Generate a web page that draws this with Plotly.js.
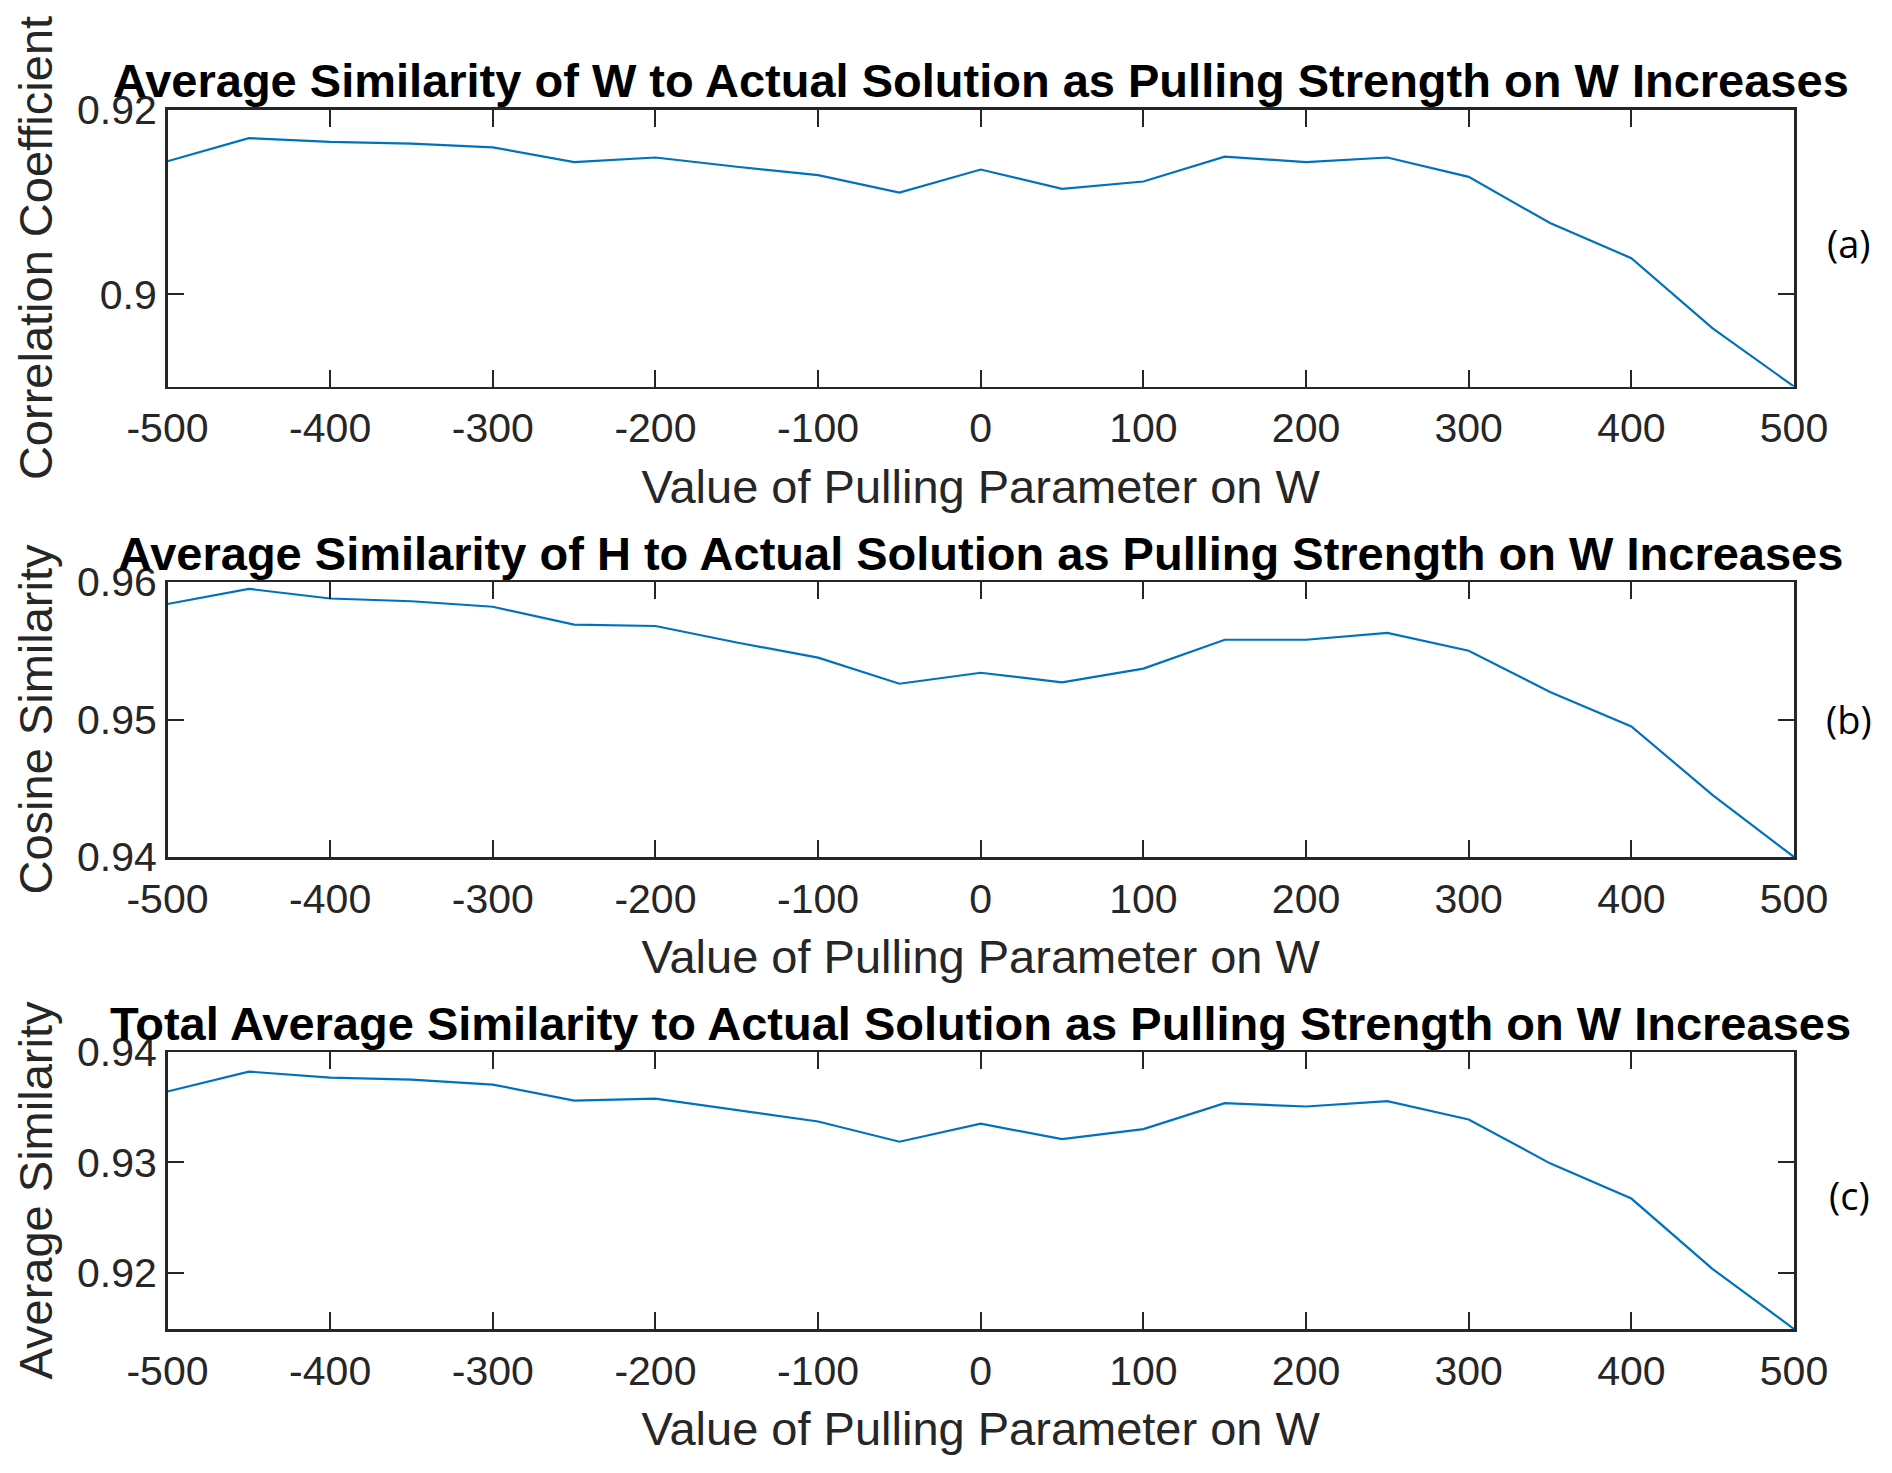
<!DOCTYPE html>
<html>
<head>
<meta charset="utf-8">
<script src="https://cdn.plot.ly/plotly-3.0.1.min.js"></script>
<style>html,body{margin:0;padding:0;background:#fff;}#chart{width:1892px;height:1473px;}</style>
</head>
<body>
<div id="chart"></div>
<script>
const pullValues = [-500,-450,-400,-350,-300,-250,-200,-150,-100,-50,0,50,100,150,200,250,300,350,400,450,500];
const corrW = [0.9144,0.9169,0.9165,0.9163,0.9159,0.9143,0.9148,0.9138,0.9129,0.9110,0.9135,0.9114,0.9122,0.9149,0.9143,0.9148,0.9127,0.9077,0.9039,0.8963,0.8900];
const cosH = [0.9584,0.9595,0.9588,0.9586,0.9582,0.9569,0.9568,0.9556,0.9545,0.9526,0.9534,0.9527,0.9537,0.9558,0.9558,0.9563,0.9550,0.9520,0.9495,0.9445,0.9400];
const totalAvg = [0.93642,0.93822,0.93768,0.9375,0.93705,0.9356,0.93578,0.93473,0.9337,0.93187,0.9335,0.93211,0.93301,0.93536,0.93506,0.93554,0.93389,0.92991,0.92672,0.92033,0.9149];

const xTickVals = [-500,-400,-300,-200,-100,0,100,200,300,400,500];
const xTickText = ["-500","-400","-300","-200","-100","0","100","200","300","400","500"];
const yTickValsA = [0.9,0.92];
const yTickTextA = ["0.9","0.92"];
const yTickValsB = [0.94,0.95,0.96];
const yTickTextB = ["0.94","0.95","0.96"];
const yTickValsC = [0.92,0.93,0.94];
const yTickTextC = ["0.92","0.93","0.94"];

const titles = [
  "Average Similarity of W to Actual Solution as Pulling Strength on W Increases",
  "Average Similarity of H to Actual Solution as Pulling Strength on W Increases",
  "Total Average Similarity to Actual Solution as Pulling Strength on W Increases"
];
const yTitles = ["Correlation Coefficient","Cosine Similarity","Average Similarity"];
const xTitle = "Value of Pulling Parameter on W";
const panelTags = ["(a)","(b)","(c)"];

const W = 1892, H = 1473;
const xDom = [167.5/W, 1794/W];
const yDoms = [[1-386.5/H, 1-109.5/H],[1-857/H, 1-582/H],[1-1329/H, 1-1052/H]];
const yRanges = [[0.89,0.92],[0.94,0.96],[0.9149,0.94]];
const yVals = [yTickValsA,yTickValsB,yTickValsC];
const yTexts = [yTickTextA,yTickTextB,yTickTextC];
const series = [corrW, cosH, totalAvg];
const tagYs = [243, 719, 1194.5];

const axisColor = '#262626';
const fam = '"Liberation Sans", Arial, Helvetica, sans-serif';
const tickFont = {family:fam, size:41, color:axisColor};

const data = series.map((s,i)=>({
  x: pullValues, y: s, type:'scatter', mode:'lines',
  xaxis: i===0?'x':'x'+(i+1), yaxis: i===0?'y':'y'+(i+1),
  line:{color:'#0072BD', width:2.2}, hoverinfo:'skip', showlegend:false
}));

const layout = {
  width: W, height: H,
  margin:{l:0,r:0,t:0,b:0},
  paper_bgcolor:'#ffffff', plot_bgcolor:'#ffffff',
  showlegend:false,
  annotations:[]
};

for (let i=0;i<3;i++){
  const xn = i===0?'xaxis':'xaxis'+(i+1);
  const yn = i===0?'yaxis':'yaxis'+(i+1);
  layout[xn] = {
    domain:xDom, anchor: i===0?'y':'y'+(i+1), range:[-500,500],
    tickvals:xTickVals, ticktext:xTickText,
    ticks:'inside', ticklen:17, tickwidth:2, tickcolor:axisColor,
    showline:true, linecolor:axisColor, linewidth:2.5, mirror:'ticks',
    showgrid:false, zeroline:false, tickfont:tickFont, ticklabelstandoff:4,
    title:{text:xTitle, font:{family:fam, size:47, color:axisColor}, standoff:20},
    fixedrange:true
  };
  layout[yn] = {
    domain:yDoms[i], anchor: i===0?'x':'x'+(i+1), range:yRanges[i],
    tickvals:yVals[i], ticktext:yTexts[i],
    ticks:'inside', ticklen:16, tickwidth:2, tickcolor:axisColor,
    showline:true, linecolor:axisColor, linewidth:2.5, mirror:'ticks',
    showgrid:false, zeroline:false, tickfont:tickFont,
    title:{text:yTitles[i], font:{family:fam, size:47, color:axisColor}, standoff:10},
    fixedrange:true
  };
  layout.annotations.push({
    text:'<b>'+titles[i]+'</b>', xref:'paper', yref:'paper',
    x:(xDom[0]+xDom[1])/2, y:yDoms[i][1], xanchor:'center', yanchor:'bottom', yshift:0,
    showarrow:false, font:{family:fam, size:47, color:'#000000'}
  });
  layout.annotations.push({
    text:panelTags[i], xref:'paper', yref:'paper',
    x:1849/W, y:1-tagYs[i]/H, xanchor:'center', yanchor:'middle',
    showarrow:false, font:{family:'"Open Sans", "Noto Sans", sans-serif', size:38, color:'#000000'}
  });
}

Plotly.newPlot('chart', data, layout, {staticPlot:true, displayModeBar:false});
</script>
</body>
</html>
